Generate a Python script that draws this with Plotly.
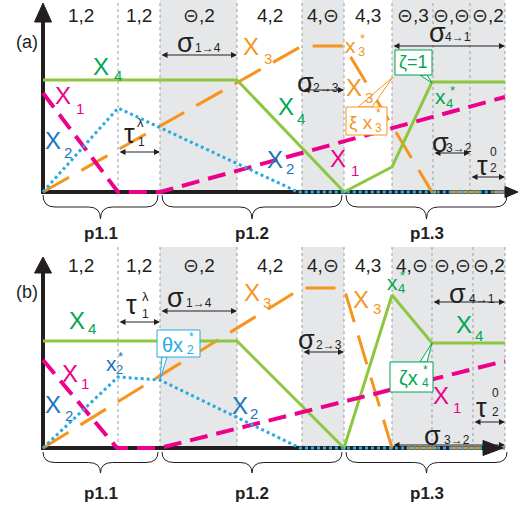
import plotly.graph_objects as go

# ---------------- data (time units t, value units v) ----------------
bounds_a = [0, 7.5, 11.7, 19.4, 25.9, 30.1, 34.9, 39.0, 42.7, 46.2]
bounds_b = [0, 7.5, 11.7, 19.4, 25.9, 30.1, 34.9, 38.9, 43.0, 46.2]
shaded_phases = [2, 4, 6, 7, 8]
phase_labels_a = ["1,2", "1,2", "⊝,2", "4,2", "4,⊝", "4,3", "⊝,3", "⊝,⊝", "⊝,2"]
phase_labels_b = ["1,2", "1,2", "⊝,2", "4,2", "4,⊝", "4,3", "4,⊝", "⊝,⊝", "⊝,2"]
period_names = ["p1.1", "p1.2", "p1.3"]
period_phase_ranges = [(0, 2), (2, 5), (5, 9)]

# panel (a)
x1_a_t = [0, 7.5, 11.7, 46.2]
x1_a_v = [9.9, 0, 0, 9.5]
x2_a_t = [0, 7.5, 25.5, 46.2]
x2_a_v = [0, 8.4, 0, 0]
x3_a_t = [0, 25.9, 30.1, 38.9, 46.2]
x3_a_v = [0, 14.6, 14.6, 0, 0]
x4_a_t = [0, 19.4, 30.1, 34.9, 38.9, 46.2]
x4_a_v = [11.2, 11.2, 0, 2.5, 11.0, 11.0]

# panel (b)
x1_b_t = [0, 7.4, 11.7, 46.2]
x1_b_v = [8.8, 0, 0, 8.7]
x2_b_t = [0, 7.5, 11.7, 25.7, 46.2]
x2_b_v = [0, 7.1, 6.8, 0, 0]
x3_b_t = [0, 25.9, 30.1, 34.9, 46.2]
x3_b_v = [0, 16.0, 16.0, 0, 0]
x4_b_t = [0, 19.4, 30.1, 34.9, 38.9, 46.2]
x4_b_v = [10.7, 10.7, 0, 15.3, 10.5, 10.5]

# ---------------- styles ----------------
FONT = "Liberation Sans, Arial, sans-serif"
GREEN_LINE = "#8dc63f"
GREEN_TXT = "#00a651"
MAGENTA = "#ec008c"
CYAN = "#29abe2"
BLUE_TXT = "#1b75bb"
ORANGE = "#f7941d"
GRAY = "#e6e7e8"
AXIS = "#231f20"
XSIZE = 24

fig = go.Figure()
shapes = []
annotations = []


def add_series(t, v, color, width, dash, yaxis):
    fig.add_trace(go.Scatter(x=t, y=v, mode="lines", yaxis=yaxis,
                             line=dict(color=color, width=width, dash=dash),
                             hoverinfo="skip", showlegend=False))


def txt(t, v, s, color, yref, size, dx=0, dy=0, bold=False):
    if bold:
        s = "<b>" + s + "</b>"
    annotations.append(dict(x=t, y=v, xref="x", yref=yref, text=s, showarrow=False,
                            xshift=dx, yshift=-dy, xanchor="center", yanchor="middle",
                            font=dict(family=FONT, size=size, color=color)))


def label(t, v, main, color, yref, size=XSIZE, sub=None, sub_off=(15, 10), sup=None,
          sup_off=(12, -8), small=15):
    txt(t, v, main, color, yref, size)
    if sub is not None:
        txt(t, v, sub, color, yref, small, sub_off[0], sub_off[1])
    if sup is not None:
        txt(t, v, sup, color, yref, small, sup_off[0], sup_off[1])


def darrow(t0, t1, v, yref):
    annotations.append(dict(x=t1, y=v, ax=t0, ay=v, xref="x", yref=yref, axref="x",
                            ayref=yref, text="", showarrow=True, arrowside="end+start",
                            arrowhead=2, arrowsize=1.2, arrowwidth=1, arrowcolor=AXIS,
                            standoff=0, startstandoff=0))


def greek(t, v, g, sub, yref, sub_dx, sub_dy=5):
    txt(t, v, g, AXIS, yref, 27)
    txt(t, v, sub, AXIS, yref, 12, sub_dx, sub_dy)


def brace(t0, t1, ytop, ytip, yref):
    tm = (t0 + t1) / 2
    ym = (ytop + ytip) / 2
    r = 1.2
    path = (f"M {t0},{ytop} Q {t0},{ym} {t0 + r},{ym} L {tm - r},{ym} "
            f"Q {tm},{ym} {tm},{ytip} Q {tm},{ym} {tm + r},{ym} "
            f"L {t1 - r},{ym} Q {t1},{ym} {t1},{ytop}")
    shapes.append(dict(type="path", path=path, xref="x", yref=yref,
                       line=dict(color=AXIS, width=1)))


def callout(t0, t1, vlo, vhi, tail_a, tail_b, tip, color, yref, tail_top):
    ty = vhi if tail_top else vlo
    shapes.append(dict(type="path", xref="x", yref=yref, layer="above",
                       path=f"M {tail_a},{ty} L {tip[0]},{tip[1]} L {tail_b},{ty} Z",
                       fillcolor="white", line=dict(color=color, width=1)))
    shapes.append(dict(type="rect", xref="x", yref=yref, layer="above",
                       x0=t0, x1=t1, y0=vlo, y1=vhi, fillcolor="white",
                       line=dict(color=color, width=1)))


def panel(bounds, labels, yref, gray_top, label_v, xtip, xbase, xhalf,
          ybase, ytip, brace_top, brace_tip, plabel_v):
    for i in shaded_phases:
        shapes.append(dict(type="rect", xref="x", yref=yref, layer="below",
                           x0=bounds[i], x1=bounds[i + 1], y0=0, y1=gray_top,
                           fillcolor=GRAY, line=dict(width=0)))
    for b in bounds[1:]:
        shapes.append(dict(type="line", xref="x", yref=yref, layer="below",
                           x0=b, x1=b, y0=0, y1=gray_top,
                           line=dict(color="#9d9fa2", width=1, dash="dot")))
    shapes.append(dict(type="line", xref="x", yref=yref, layer="below",
                       x0=0, x1=0, y0=-0.2, y1=ybase, line=dict(color=AXIS, width=4)))
    shapes.append(dict(type="line", xref="x", yref=yref, layer="below",
                       x0=-0.2, x1=xbase, y0=0, y1=0, line=dict(color=AXIS, width=4)))
    shapes.append(dict(type="path", xref="x", yref=yref, layer="above",
                       path=f"M -0.85,{ybase} L 0,{ytip} L 0.85,{ybase} Z",
                       fillcolor=AXIS, line=dict(color=AXIS, width=1)))
    shapes.append(dict(type="path", xref="x", yref=yref, layer="above",
                       path=f"M {xbase},{-xhalf} L {xtip},0 L {xbase},{xhalf} Z",
                       fillcolor=AXIS, line=dict(color=AXIS, width=1)))
    for i, s in enumerate(labels):
        txt((bounds[i] + bounds[i + 1]) / 2, label_v, s, AXIS, yref, 19)
    for k, (i0, i1) in enumerate(period_phase_ranges):
        t0 = bounds[i0] + (0.0 if k == 0 else 0.2)
        t1 = bounds[i1] + (0.2 if k == len(period_phase_ranges) - 1 else -0.2)
        brace(t0, t1, brace_top, brace_tip, yref)
        txt((t0 + t1) / 2, plabel_v, period_names[k], AXIS, yref, 17, bold=True)


# ---------------- panel (a) ----------------
panel(bounds_a, phase_labels_a, "y", 19.5, 17.7, 47.5, 46.2, 0.55, 17.0, 18.9,
      -0.3, -2.7, -4.1)
add_series(x3_a_t, x3_a_v, ORANGE, 3, "30px,14px", "y")
add_series(x4_a_t, x4_a_v, GREEN_LINE, 3, "solid", "y")
add_series(x1_a_t, x1_a_v, MAGENTA, 4, "18px,9px", "y")
add_series(x2_a_t, x2_a_v, CYAN, 3, "dot", "y")

txt(-1.6, 15.0, "(a)", AXIS, "y", 18)
label(5.8, 12.6, "X", GREEN_TXT, "y", sub="4", sub_off=(17, 9))
label(2.0, 9.7, "X", MAGENTA, "y", sub="1", sub_off=(17, 13))
label(1.0, 5.2, "X", BLUE_TXT, "y", sub="2", sub_off=(15, 12))
txt(8.6, 5.8, "τ", AXIS, "y", 27)
txt(8.6, 5.8, "λ", AXIS, "y", 13, 11, -12)
txt(8.6, 5.8, "1", AXIS, "y", 12, 12, 8)
darrow(7.5, 11.7, 4.0, "y")
greek(14.2, 14.9, "σ", "1→4", "y", 23)
darrow(11.7, 19.4, 13.7, "y")
label(20.8, 14.6, "X", ORANGE, "y", sub="3", sub_off=(17, 12))
label(24.3, 8.6, "X", GREEN_TXT, "y", sub="4", sub_off=(15, 12))
label(23.2, 3.3, "X", BLUE_TXT, "y", sub="2", sub_off=(15, 9))
greek(26.2, 10.9, "σ", "2→3", "y", 21)
darrow(25.9, 30.1, 10.2, "y")
label(30.7, 14.7, "x", ORANGE, "y", size=21, sub="3", sub_off=(11, 6), sup="*",
      sup_off=(12, -7), small=13)
label(31.1, 10.5, "X", ORANGE, "y", sub="3", sub_off=(15, 10))
callout(30.3, 34.4, 5.7, 8.5, 31.5, 32.9, (35.0, 11.5), ORANGE, "y", True)
label(31.8, 7.0, "ξ x", ORANGE, "y", size=19, sub="3", sub_off=(17, 6), sup="*",
      sup_off=(17, -9), small=12)
callout(35.2, 38.9, 11.7, 14.2, 37.7, 38.4, (38.9, 10.9), GREEN_TXT, "y", False)
txt(37.0, 13.0, "ζ=1", GREEN_TXT, "y", 18)
label(39.7, 9.6, "x", GREEN_TXT, "y", size=21, sub="4", sub_off=(9, 7), sup="*",
      sup_off=(12, -6), small=13)
greek(39.4, 15.9, "σ", "4→1", "y", 21, 4)
darrow(34.9, 46.2, 14.6, "y")
label(29.5, 3.4, "X", MAGENTA, "y", sub="1", sub_off=(17, 12))
greek(39.7, 4.9, "σ", "3→2", "y", 19)
darrow(39.0, 42.7, 3.9, "y")
txt(43.9, 2.6, "τ", AXIS, "y", 27)
txt(43.9, 2.6, "0", AXIS, "y", 12, 11, -14)
txt(43.9, 2.6, "2", AXIS, "y", 12, 11, 2)
darrow(42.7, 46.2, 1.5, "y")

# ---------------- panel (b) ----------------
panel(bounds_b, phase_labels_b, "y2", 20.1, 18.3, 46.0, 44.0, 0.75, 17.5, 19.1,
      -0.4, -2.5, -4.5)
add_series(x3_b_t, x3_b_v, ORANGE, 3, "30px,14px", "y2")
add_series(x4_b_t, x4_b_v, GREEN_LINE, 3, "solid", "y2")
add_series(x1_b_t, x1_b_v, MAGENTA, 4, "18px,9px", "y2")
add_series(x2_b_t, x2_b_v, CYAN, 3, "dot", "y2")

txt(-1.6, 15.6, "(b)", AXIS, "y2", 18)
txt(8.8, 14.3, "τ", AXIS, "y2", 27)
txt(8.8, 14.3, "λ", AXIS, "y2", 13, 14, -9)
txt(8.8, 14.3, "1", AXIS, "y2", 12, 14, 9)
darrow(7.5, 11.7, 12.6, "y2")
greek(13.2, 15.0, "σ", "1→4", "y2", 24)
darrow(11.7, 19.4, 13.7, "y2")
label(3.4, 12.8, "X", GREEN_TXT, "y2", sub="4", sub_off=(15, 8))
label(2.7, 7.5, "X", MAGENTA, "y2", sub="1", sub_off=(15, 10))
label(1.0, 4.4, "X", BLUE_TXT, "y2", sub="2", sub_off=(16, 11))
label(6.8, 8.5, "x", BLUE_TXT, "y2", size=21, sub="2", sub_off=(8, 6), sup="*",
      sup_off=(9, -7), small=13)
callout(11.4, 15.7, 9.1, 11.8, 11.9, 12.4, (11.7, 6.8), CYAN, "y2", False)
label(12.9, 10.3, "θx", CYAN, "y2", size=20, sub="2", sub_off=(18, 5), sup="*",
      sup_off=(19, -8), small=12)
label(20.9, 15.6, "X", ORANGE, "y2", sub="3", sub_off=(15, 10))
label(19.7, 4.3, "X", BLUE_TXT, "y2", sub="2", sub_off=(14, 8))
greek(26.3, 10.8, "σ", "2→3", "y2", 23)
darrow(25.9, 30.1, 9.6, "y2")
label(31.8, 14.9, "X", ORANGE, "y2", sub="3", sub_off=(16, 9))
label(34.9, 16.6, "x", GREEN_TXT, "y2", size=21, sub="4", sub_off=(9, 6), sup="*",
      sup_off=(10, -7), small=13)
greek(41.4, 15.4, "σ", "4→1", "y2", 25)
darrow(38.9, 46.2, 14.6, "y2")
label(42.1, 12.4, "X", GREEN_TXT, "y2", sub="4", sub_off=(15, 11))
callout(34.7, 39.0, 5.6, 8.6, 37.7, 38.4, (38.9, 10.5), GREEN_TXT, "y2", True)
label(36.5, 7.0, "ζx", GREEN_TXT, "y2", size=20, sub="4", sub_off=(17, 5), sup="*",
      sup_off=(17, -8), small=12)
label(39.8, 5.3, "X", MAGENTA, "y2", sub="1", sub_off=(16, 12))
txt(43.8, 4.0, "τ", AXIS, "y2", 27)
txt(43.8, 4.0, "0", AXIS, "y2", 12, 14, -15)
txt(43.8, 4.0, "2", AXIS, "y2", 12, 14, 4)
darrow(43.0, 46.2, 2.6, "y2")
greek(38.9, 1.2, "σ", "3→2", "y2", 25, 4)
darrow(34.9, 46.2, 0.3, "y2")

fig.update_layout(
    width=527, height=508, margin=dict(l=0, r=0, t=0, b=0),
    paper_bgcolor="white", plot_bgcolor="white",
    xaxis=dict(range=[-4.3, 48.4], visible=False, fixedrange=True),
    yaxis=dict(range=[-31.6, 19.2], visible=False, fixedrange=True),
    yaxis2=dict(range=[-6.0, 44.8], visible=False, overlaying="y", fixedrange=True),
    shapes=shapes, annotations=annotations, showlegend=False,
)
fig.write_html("out.html", config={"displayModeBar": False},
               post_script="document.body.style.margin='0';document.body.style.padding='0';")
